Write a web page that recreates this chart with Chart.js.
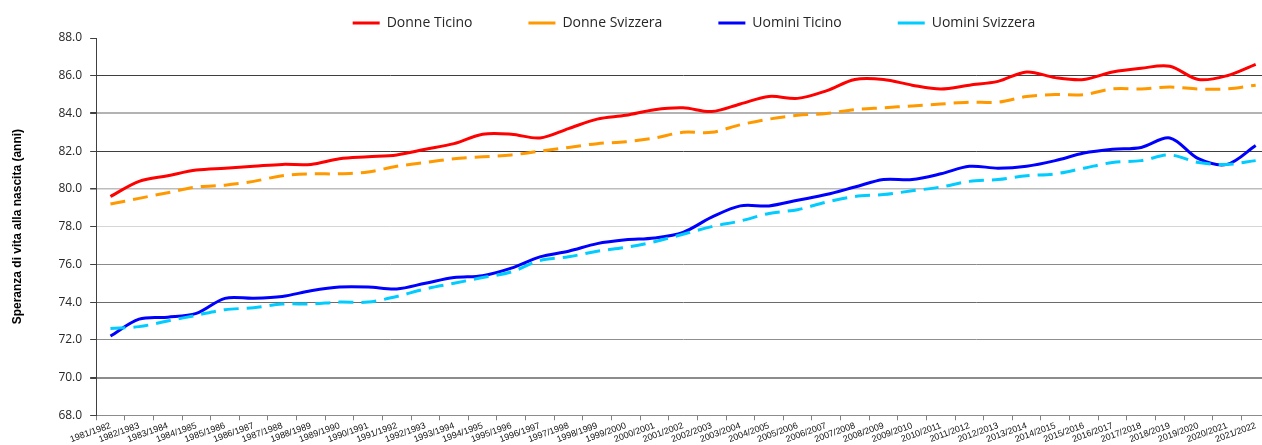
<!DOCTYPE html>
<html>
<head>
<meta charset="utf-8">
<script src="https://cdn.jsdelivr.net/npm/chart.js@4/dist/chart.umd.min.js"></script>
<style>
  html, body { margin: 0; padding: 0; background: #fff; overflow: hidden; }
</style>
</head>
<body>
<canvas id="chart" width="1272" height="445"></canvas>
<script>
var years = [];
for (var y = 1981; y <= 2021; y++) years.push(y + "/" + (y + 1));

var donneTicino = [79.6, 80.4, 80.7, 81.0, 81.1, 81.2, 81.3, 81.3, 81.6, 81.7, 81.8, 82.1, 82.4, 82.9, 82.9, 82.7, 83.2, 83.7, 83.9, 84.2, 84.3, 84.1, 84.5, 84.9, 84.8, 85.2, 85.8, 85.8, 85.5, 85.3, 85.5, 85.7, 86.2, 85.9, 85.8, 86.2, 86.4, 86.5, 85.8, 86.0, 86.6];
var donneSvizzera = [79.2, 79.5, 79.8, 80.1, 80.2, 80.4, 80.7, 80.8, 80.8, 80.9, 81.2, 81.4, 81.6, 81.7, 81.8, 82.0, 82.2, 82.4, 82.5, 82.7, 83.0, 83.0, 83.4, 83.7, 83.9, 84.0, 84.2, 84.3, 84.4, 84.5, 84.6, 84.6, 84.9, 85.0, 85.0, 85.3, 85.3, 85.4, 85.3, 85.3, 85.5];
var uominiTicino = [72.2, 73.1, 73.2, 73.4, 74.2, 74.2, 74.3, 74.6, 74.8, 74.8, 74.7, 75.0, 75.3, 75.4, 75.8, 76.4, 76.7, 77.1, 77.3, 77.4, 77.7, 78.5, 79.1, 79.1, 79.4, 79.7, 80.1, 80.5, 80.5, 80.8, 81.2, 81.1, 81.2, 81.5, 81.9, 82.1, 82.2, 82.7, 81.6, 81.3, 82.3];
var uominiSvizzera = [72.6, 72.7, 73.0, 73.3, 73.6, 73.7, 73.9, 73.9, 74.0, 74.0, 74.3, 74.7, 75.0, 75.3, 75.6, 76.2, 76.4, 76.7, 76.9, 77.2, 77.6, 78.0, 78.3, 78.7, 78.9, 79.3, 79.6, 79.7, 79.9, 80.1, 80.4, 80.5, 80.7, 80.8, 81.1, 81.4, 81.5, 81.8, 81.4, 81.3, 81.5];

var yTitle = "Speranza di vita alla nascita (anni)";

// gridline look per value (the reference lines are not all the same grey)
var gridColors = { 88: "rgba(0,0,0,0)", 86: "#3f3f3f", 84: "#b3b3b3", 82: "#3f3f3f", 80: "#bdbdbd", 78: "#d6d6d6", 76: "#8a8a8a", 74: "#6b6b6b", 72: "#8f8f8f", 70: "#8c8c8c", 68: "#8c8c8c" };
var gridWidths = { 84: 2, 80: 1.5, 70: 2 };

var makeLine = function (label, data, color, dashed, order) {
	return {
		label: label,
		data: data,
		borderColor: color,
		backgroundColor: color,
		borderWidth: 3,
		borderDash: dashed ? [15, 8] : [],
		pointRadius: 0,
		tension: 0.33,
		fill: false,
		order: order,
	};
};

// legend: wide spacing between items, but keep it in the top strip
var legendFix = {
	id: "legendFix",
	afterInit: function (chart) {
		var lg = chart.legend;
		var fit = lg.fit;
		lg.fit = function () {
			fit.call(this);
			this.height = 38;
		};
	},
	afterLayout: function (chart) {
		var lg = chart.legend;
		var d = 694 - (lg.left + lg.right) / 2;
		lg.left += d;
		lg.right += d;
		lg.top = 22 - 56 - 6;
	},
};

new Chart(document.getElementById("chart").getContext("2d"), {
	type: "line",
	data: {
		labels: years,
		datasets: [
			makeLine("Donne Ticino", donneTicino, "#ff0000", false, 4),
			makeLine("Donne Svizzera", donneSvizzera, "#ff9900", true, 3),
			makeLine("Uomini Ticino", uominiTicino, "#0000ff", false, 2),
			makeLine("Uomini Svizzera", uominiSvizzera, "#00ccff", true, 1),
		],
	},
	options: {
		responsive: false,
		animation: false,
		devicePixelRatio: 1,
		layout: { padding: { left: 7, right: 2, top: 0, bottom: 0 } },
		plugins: {
			tooltip: { enabled: false },
			legend: {
				position: "top",
				reverse: true,
				labels: {
					boxWidth: 27,
					boxHeight: 3,
					padding: 56,
					color: "#262626",
					font: { family: "'Open Sans'", size: 14 },
					generateLabels: function (chart) {
						return Chart.defaults.plugins.legend.labels.generateLabels(chart).map(function (l) {
							l.fillStyle = l.strokeStyle;
							l.lineWidth = 0;
							l.lineDash = [];
							return l;
						});
					},
				},
			},
		},
		scales: {
			x: {
				offset: true,
				grid: { display: true, drawOnChartArea: false, offset: true, tickLength: 5, color: "#808080" },
				border: { color: "#8c8c8c", width: 1 },
				ticks: {
					autoSkip: false,
					minRotation: 20,
					maxRotation: 20,
					padding: 0,
					color: "#111",
					font: { family: "'Liberation Sans'", size: 9 },
				},
			},
			y: {
				min: 68,
				max: 88,
				grid: {
					color: function (c) { return gridColors[c.tick.value] || "#999"; },
					lineWidth: function (c) { return gridWidths[c.tick.value] || 1; },
					tickColor: "#404040",
					tickLength: 6,
				},
				border: { color: "#404040", width: 1 },
				ticks: {
					stepSize: 2,
					padding: 8,
					color: "#262626",
					font: { family: "'Open Sans'", size: 12 },
					callback: function (v) { return v.toFixed(1); },
				},
				title: {
					display: true,
					text: yTitle,
					color: "#000",
					font: { family: "'Liberation Sans'", size: 12, weight: "bold" },
					padding: { top: 3, bottom: 26 },
				},
			},
		},
	},
	plugins: [legendFix],
});
</script>
</body>
</html>
